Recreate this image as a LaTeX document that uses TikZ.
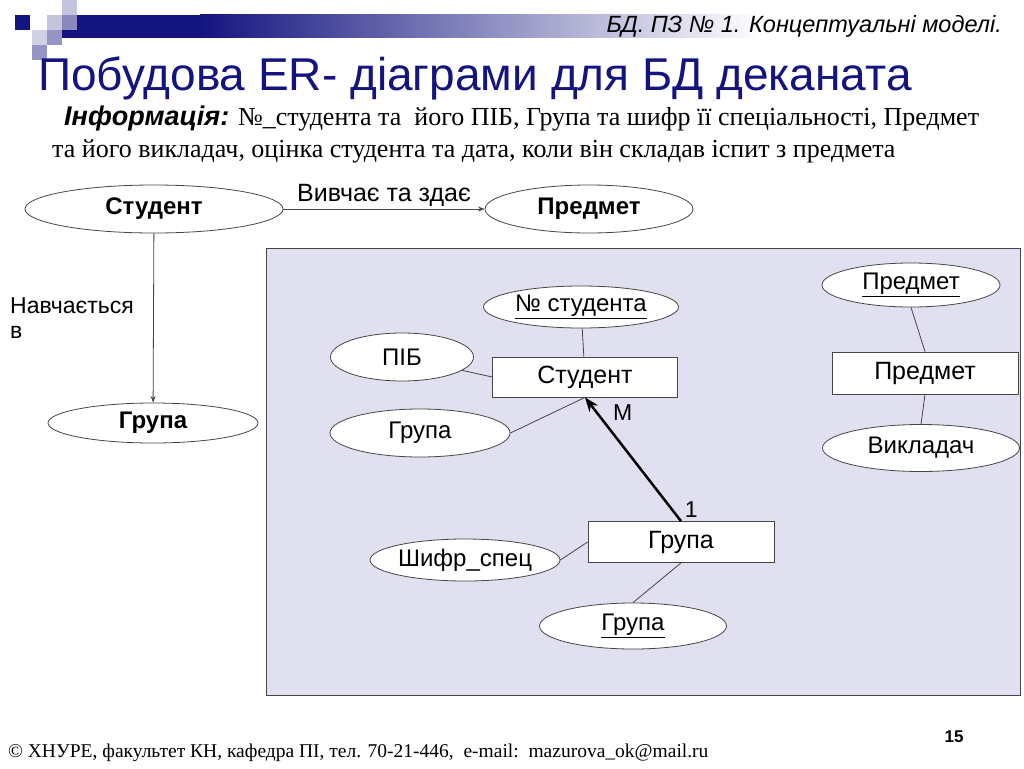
\documentclass[tikz,border=0pt]{standalone}
\usepackage{fontspec}
\setmainfont{Liberation Serif}
\setsansfont{Liberation Sans}
\usetikzlibrary{arrows.meta,shapes.geometric,positioning}
\definecolor{navy}{RGB}{20,20,128}
\definecolor{lav}{RGB}{224,224,240}
\definecolor{edgegray}{RGB}{70,70,70}
\newcommand{\fs}[1]{\fontsize{#1}{#1}\selectfont}
\tikzset{
  attr/.style={ellipse,draw=edgegray,fill=white,inner sep=0pt,line width=0.8pt,font=\sffamily\fs{24}},
  battr/.style={attr,font=\sffamily\bfseries\fs{24}},
  ent/.style={rectangle,draw=edgegray,fill=white,inner sep=0pt,line width=0.8pt,font=\sffamily\fs{25}},
  lnk/.style={draw=edgegray,line width=0.8pt},
  lbl/.style={font=\sffamily\fs{23}},
}
\begin{document}
\begin{tikzpicture}[x=1pt,y=-1pt,>=Stealth]
\useasboundingbox (0,0) rectangle (1024,768);
\fill[white] (0,0) rectangle (1024,768);

% header
\fill[navy] (62,15) rectangle (200,38);
\shade[left color=navy,right color=white] (200,15) rectangle (760,38);
\fill[navy] (15,15) rectangle (30,30);
\fill[navy!25] (62,0) rectangle (77,15);
\fill[navy!25] (47,15) rectangle (62,30);
\fill[navy!50] (62,15) rectangle (77,30);
\fill[navy!20] (32,30) rectangle (47,45);
\fill[navy!45] (47,30) rectangle (62,45);
\fill[navy!45] (32,45) rectangle (47,60);

\node[anchor=base east,inner sep=0pt,font=\sffamily\itshape\fs{23.5}] (hdr) at (1002,33) {БД. ПЗ № 1. Концептуальні моделі.};
\node[anchor=base west,inner sep=0pt,text=navy,font=\sffamily\fs{46}] (ttl) at (38,90) {Побудова ER- діаграми для БД деканата};
\node[anchor=base west,inner sep=0pt,font=\fs{26}] (inf1) at (64,125)
  {{\sffamily\bfseries\itshape\fs{27}Інформація:} №\_студента та\ \ його ПІБ, Група та шифр її спеціальності, Предмет};
\node[anchor=base west,inner sep=0pt,font=\fs{26}] (inf2) at (52,157)
  {та його викладач, оцінка студента та дата, коли він складав іспит з предмета};

% left diagram
\node[battr,minimum width=258pt,minimum height=48pt] (s) at (154,209) {Студент};
\node[battr,minimum width=208pt,minimum height=48pt] (p) at (589,209) {Предмет};
\node[battr,minimum width=210pt,minimum height=40pt] (g) at (153,423) {Група};
\draw[lnk,->] (s) -- (p) node[midway,above=-1pt,lbl,font=\sffamily\fs{25}] {Вивчає та здає};
\draw[lnk,->] (s) -- (g);
\node[lbl,anchor=north west,align=left,inner sep=0pt] (nv) at (10,297) {Навчається\\[2pt]в};

% ER model
\draw[edgegray,fill=lav,line width=0.8pt] (266,248) rectangle (1020,695);

\node[attr,minimum width=195pt,minimum height=42pt] (n) at (581,307) {\underline{№ студента}};
\node[ent,minimum width=185pt,minimum height=40pt] (st) at (585,377) {Студент};
\node[attr,minimum width=143pt,minimum height=48pt] (pib) at (402,357) {ПІБ};
\node[attr,minimum width=180pt,minimum height=48pt] (ga) at (420,433) {Група};

\node[ent,minimum width=186pt,minimum height=41pt] (gr) at (681,542) {Група};
\node[attr,minimum width=190pt,minimum height=42pt] (sh) at (465,560) {Шифр\_спец};
\node[attr,minimum width=187pt,minimum height=46pt] (gk) at (633,626) {\underline{Група}};

\node[attr,minimum width=178pt,minimum height=44pt] (pk) at (911,285) {\underline{Предмет}};
\node[ent,minimum width=186pt,minimum height=42pt] (pr) at (925,373) {Предмет};
\node[attr,minimum width=197pt,minimum height=47pt] (vk) at (921,448) {Викладач};

\draw[lnk] (n) -- (st);
\draw[lnk] (pib) -- (st.west);
\draw[lnk] (ga.east) -- (st.south);
\draw[line width=2.5pt,->] (gr.north) -- (st.south)
  node[pos=0.88,right=12pt,lbl] {M}
  node[pos=0.09,right=8pt,lbl] {1};
\draw[lnk] (sh.east) -- (gr.west);
\draw[lnk] (gk.north) -- (gr.south);
\draw[lnk] (pk.south) -- (pr.north);
\draw[lnk] (pr.south) -- (vk.north);

% footer
\node[anchor=base west,inner sep=0pt,font=\fs{19.5}] (ft) at (8,757) {© ХНУРЕ, факультет КН, кафедра ПІ, тел. 70-21-446,\ \ e-mail:\ \ mazurova\_ok@mail.ru};
\node[anchor=base,inner sep=0pt,font=\sffamily\bfseries\fs{17}] (pg) at (954,742) {15};
\end{tikzpicture}
\end{document}
